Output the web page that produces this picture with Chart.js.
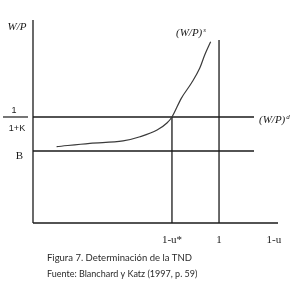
<!DOCTYPE html>
<html lang="es">
<head>
<meta charset="UTF-8">
<title>Determinación de la TND</title>
<script src="https://cdn.jsdelivr.net/npm/chart.js"></script>
<style>
  html, body { margin: 0; padding: 0; background: #fff; }
  #wrap { width: 303px; height: 281px; position: relative; }
</style>
</head>
<body>
<div id="wrap"><canvas id="tnd"></canvas></div>
<script>
// Curva de fijación de salarios (W/P)^s
const curveX = [0.127, 0.306, 0.484, 0.575, 0.667, 0.720, 0.747, 0.797, 0.851, 0.896, 0.923, 0.955];
const curveY = [0.720, 0.752, 0.774, 0.814, 0.877, 0.943, 1.000, 1.176, 1.318, 1.459, 1.585, 1.710];

// niveles horizontales: 1/(1+K) y B
const levelDemand = 1.0;
const levelB = 0.679;
const levelEnd = 1.188;

// verticales: 1-u* y 1
const uStar = 0.747;
const uOne = 1.0;
const uOneTop = 1.726;

// extremos de los ejes
const xMax = 1.317;
const yMax = 1.915;

const xTickValues = [0.747, 1.0, 1.295];
const xTickLabels = ['1-u*', '1', '1-u'];

const ink = '#1a1a1a';

function seg(x0, y0, x1, y1, color, w) {
    return {
        data: [{ x: x0, y: y0 }, { x: x1, y: y1 }],
        showLine: true, borderColor: color || ink, borderWidth: w || 1.3,
        pointRadius: 0, clip: false, tension: 0
    };
}

// texto con superíndice en cursiva
function withSup(ctx, base, sup, x, y) {
    ctx.font = 'italic 11px "Liberation Serif", serif';
    ctx.fillText(base, x, y);
    const w = ctx.measureText(base).width;
    ctx.font = 'italic 7px "Liberation Serif", serif';
    ctx.fillText(sup, x + w + 1, y - 4);
}

const textPlugin = {
    id: 'textos',
    afterDraw(chart) {
        const ctx = chart.ctx;
        const xs = chart.scales.x, ys = chart.scales.y;
        ctx.save();
        ctx.fillStyle = ink;
        ctx.textAlign = 'center';
        ctx.textBaseline = 'alphabetic';

        // etiquetas del eje x
        ctx.font = '11px "Liberation Serif", serif';
        xTickValues.forEach((v, i) => {
            ctx.fillText(xTickLabels[i], xs.getPixelForValue(v), 243);
        });

        // W/P
        ctx.font = 'italic 11px "Liberation Serif", serif';
        ctx.fillText('W/P', 17, 30);

        // 1 / (1+K)
        const yd = ys.getPixelForValue(levelDemand);
        ctx.font = '9px "Liberation Sans", sans-serif';
        ctx.fillText('1', 14, yd - 4);
        ctx.fillText('1+K', 17, yd + 14);
        ctx.strokeStyle = ink;
        ctx.lineWidth = 1.2;
        ctx.beginPath();
        ctx.moveTo(3, yd);
        ctx.lineTo(28, yd);
        ctx.stroke();

        // B
        ctx.font = '11px "Liberation Serif", serif';
        ctx.fillText('B', 19.5, ys.getPixelForValue(levelB) + 8);

        // (W/P)^s y (W/P)^d
        ctx.textAlign = 'left';
        withSup(ctx, '(W/P)', 's', 176, 36);
        withSup(ctx, '(W/P)', 'd', 259, yd + 6);

        // pie de figura
        ctx.fillStyle = '#2a2a2a';
        ctx.font = '9.5px Lato, sans-serif';
        ctx.fillText('Figura 7. Determinación de la TND', 47, 261);
        ctx.font = '9px Lato, sans-serif';
        ctx.fillText('Fuente: Blanchard y Katz (1997, p. 59)', 47, 277);
        ctx.restore();
    }
};

new Chart(document.getElementById('tnd'), {
    type: 'scatter',
    data: {
        datasets: [
            {
                data: curveX.map((x, i) => ({ x: x, y: curveY[i] })),
                showLine: true, borderColor: '#3a3a3a', borderWidth: 1.2,
                pointRadius: 0, cubicInterpolationMode: 'monotone', clip: false
            },
            seg(0, 0, 0, yMax),
            seg(0, 0, xMax, 0),
            seg(0, levelDemand, levelEnd, levelDemand),
            seg(0, levelB, levelEnd, levelB),
            seg(uStar, 0, uStar, levelDemand),
            seg(uOne, 0, uOne, uOneTop)
        ]
    },
    options: {
        responsive: true,
        maintainAspectRatio: false,
        animation: false,
        layout: { padding: { left: 33, top: 20, right: 25, bottom: 58 } },
        plugins: { legend: { display: false }, tooltip: { enabled: false } },
        scales: {
            x: { type: 'linear', min: 0, max: xMax, display: false },
            y: { type: 'linear', min: 0, max: yMax, display: false }
        }
    },
    plugins: [textPlugin]
});
</script>
</body>
</html>
